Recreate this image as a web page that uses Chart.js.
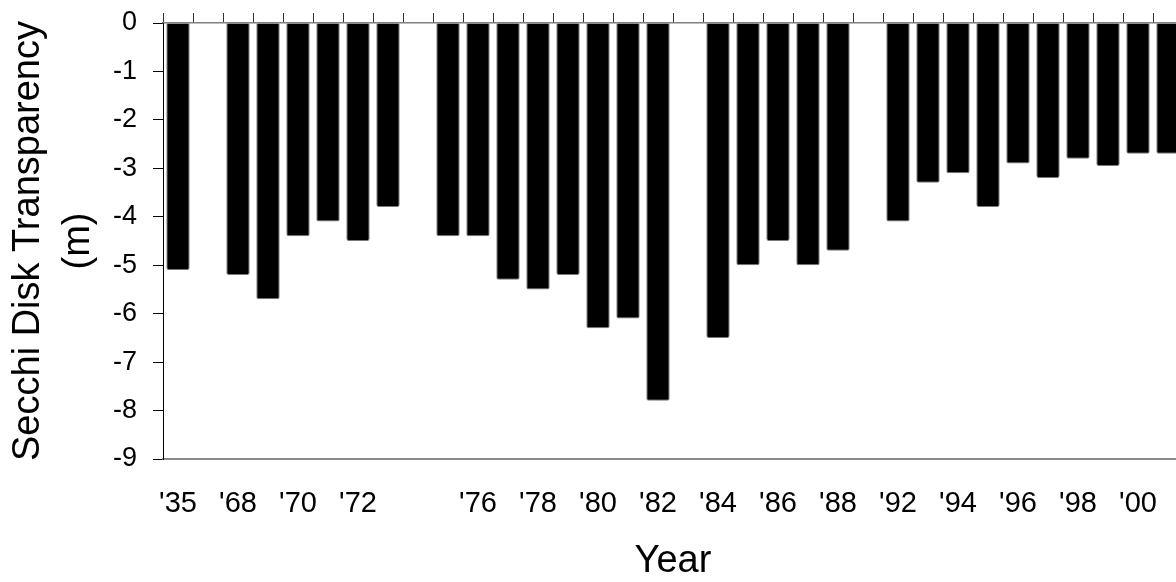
<!DOCTYPE html>
<html>
<head>
<meta charset="utf-8">
<script src="https://cdn.jsdelivr.net/npm/chart.js@4/dist/chart.umd.min.js"></script>
<style>
  html, body { margin: 0; padding: 0; overflow: hidden; background: #fff; }
  #wrap { position: absolute; left: 0; top: 0; width: 1184px; height: 582px; }
</style>
</head>
<body>
<div id="wrap"><canvas id="secchi-chart"></canvas></div>
<script>
// one slot per sampling year; blank slots are gaps in the record
const years = [
  "'35", "", "'68", "'69", "'70", "'71", "'72", "'73", "", "'75",
  "'76", "'77", "'78", "'79", "'80", "'81", "'82", "'83", "'84", "'85",
  "'86", "'87", "'88", "", "'92", "'93", "'94", "'95", "'96", "'97",
  "'98", "'99", "'00", "'01"
];
const secchiDepth = [
  -5.1, null, -5.2, -5.7, -4.4, -4.1, -4.5, -3.8, null, -4.4,
  -4.4, -5.3, -5.5, -5.2, -6.3, -6.1, -7.8, null, -6.5, -5.0,
  -4.5, -5.0, -4.7, null, -4.1, -3.3, -3.1, -3.8, -2.9, -3.2,
  -2.8, -2.95, -2.7, -2.7
];
const depthTicks = [0, -1, -2, -3, -4, -5, -6, -7, -8, -9];

const FONT = "'Liberation Sans', Arial, Helvetica, sans-serif";

document.addEventListener("DOMContentLoaded", () => {
  const ctx = document.getElementById("secchi-chart").getContext("2d");
  new Chart(ctx, {
    type: "bar",
    data: {
      labels: years,
      datasets: [
        {
          label: "Secchi disk transparency",
          data: secchiDepth,
          backgroundColor: "#000",
          borderColor: "#7a7a7a",
          borderWidth: 1,
          borderRadius: 2,
          barPercentage: 0.78,
          categoryPercentage: 1.0,
          xAxisID: "x",
        },
      ],
    },
    options: {
      responsive: true,
      maintainAspectRatio: false,
      animation: false,
      layout: { padding: { top: 0, right: 1, bottom: 0, left: 0 } },
      plugins: {
        legend: { display: false },
        tooltip: { enabled: false },
      },
      scales: {
        x: {
          position: "bottom",
          offset: true,
          afterFit: (axis) => { axis.height = 123; },
          grid: { display: false, drawTicks: false },
          border: { display: true, color: "#8a8a8a", width: 2 },
          ticks: {
            autoSkip: false,
            maxRotation: 0,
            padding: 0,
            color: "#000",
            // tall line box pushes the labels down without adding side padding
            font: { family: FONT, size: 29, lineHeight: 3.12 },
            callback: function (value, index) {
              return index % 2 === 0 ? this.getLabelForValue(value) : "";
            },
          },
          title: {
            display: true,
            text: "Year",
            color: "#000",
            font: { family: FONT, size: 38, lineHeight: 1.1 },
            padding: { top: 0, bottom: 0 },
          },
        },
        x2: {
          position: "top",
          offset: true,
          afterFit: (axis) => { axis.height = 23; },
          grid: {
            offset: true,
            drawOnChartArea: false,
            drawTicks: true,
            tickLength: 10,
            color: "#333",
          },
          border: { display: true, color: "#808080", width: 1.5 },
          ticks: { display: false },
        },
        y: {
          min: -9,
          max: 0,
          afterFit: (axis) => { axis.width = 163; },
          afterBuildTicks: (axis) => {
            axis.ticks = depthTicks.map((v) => ({ value: v }));
          },
          grid: {
            drawOnChartArea: false,
            drawTicks: true,
            tickLength: 10,
            color: "#000",
          },
          border: { display: true, color: "#000", width: 1 },
          ticks: {
            padding: 16,
            color: "#000",
            font: { family: FONT, size: 27, lineHeight: 0.5 },
          },
          title: {
            display: true,
            text: ["Secchi Disk Transparency", "(m)"],
            color: "#000",
            font: { family: FONT, size: 38, lineHeight: 1.3 },
            padding: { top: 4, bottom: 0 },
          },
        },
      },
    },
  });
});
</script>
</body>
</html>
